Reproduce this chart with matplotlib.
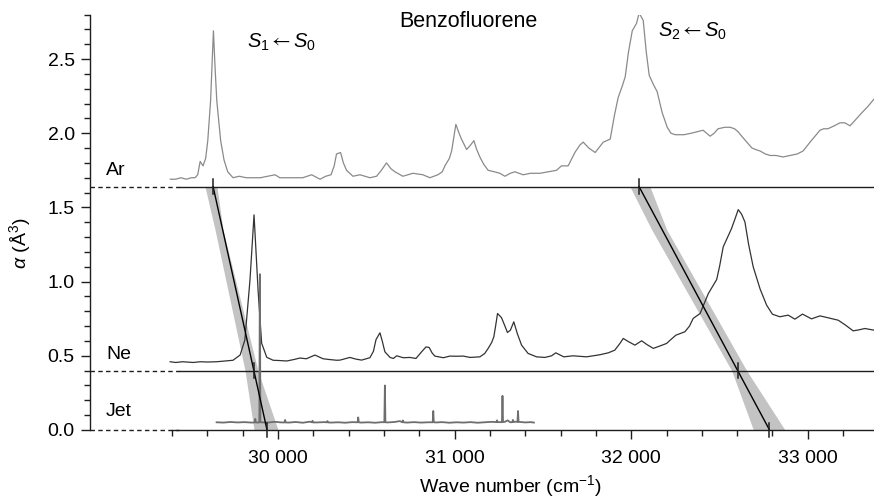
import numpy as np
import matplotlib
matplotlib.use('Agg')
import matplotlib.pyplot as plt
from matplotlib.ticker import MultipleLocator, FixedLocator, FixedFormatter

# Ar matrix spectrum (wave number, polarizability)
ar_x = [29390, 29420, 29450, 29480, 29510, 29530, 29545, 29559, 29575, 29590,
        29602, 29618, 29626, 29634, 29643, 29653, 29675, 29694, 29715, 29745,
        29780, 29820, 29859, 29900, 29940, 29983, 30010, 30060, 30100, 30140,
        30190, 30238, 30270, 30300, 30318, 30331, 30354, 30370, 30388, 30424,
        30464, 30520, 30558, 30585, 30614, 30640, 30662, 30707, 30764, 30820,
        30860, 30905, 30930, 30945, 30970, 30983, 31007, 31025, 31039, 31068,
        31090, 31109, 31125, 31143, 31165, 31190, 31225, 31256, 31285, 31315,
        31341, 31365, 31388, 31430, 31483, 31530, 31577, 31605, 31643, 31681,
        31709, 31728, 31760, 31796, 31842, 31881, 31905, 31926, 31950, 31966,
        31985, 32006, 32030, 32045, 32068, 32085, 32102, 32125, 32147, 32175,
        32204, 32225, 32249, 32300, 32340, 32373, 32407, 32447, 32470, 32492,
        32530, 32560, 32585, 32605, 32640, 32684, 32705, 32730, 32760, 32787,
        32820, 32860, 32900, 32940, 32973, 33020, 33069, 33090, 33114, 33150,
        33182, 33210, 33239, 33270, 33300, 33340, 33375]
ar_y = [1.69, 1.69, 1.70, 1.69, 1.70, 1.70, 1.72, 1.81, 1.78, 1.83,
        1.95, 2.22, 2.45, 2.69, 2.45, 2.22, 1.95, 1.82, 1.74, 1.70,
        1.71, 1.70, 1.70, 1.70, 1.71, 1.72, 1.70, 1.70, 1.70, 1.70,
        1.72, 1.69, 1.71, 1.72, 1.78, 1.86, 1.87, 1.80, 1.75, 1.71,
        1.72, 1.70, 1.71, 1.75, 1.80, 1.76, 1.74, 1.71, 1.73, 1.72,
        1.70, 1.72, 1.74, 1.78, 1.83, 1.88, 2.06, 2.00, 1.96, 1.89,
        1.92, 1.95, 1.89, 1.84, 1.79, 1.75, 1.74, 1.73, 1.71, 1.73,
        1.74, 1.73, 1.72, 1.73, 1.73, 1.74, 1.75, 1.78, 1.78, 1.87,
        1.92, 1.94, 1.90, 1.87, 1.94, 1.96, 2.12, 2.24, 2.32, 2.38,
        2.55, 2.69, 2.74, 2.81, 2.76, 2.55, 2.39, 2.33, 2.28, 2.14,
        2.04, 2.00, 1.99, 1.99, 2.00, 2.01, 2.02, 1.98, 2.00, 2.03,
        2.04, 2.04, 2.03, 2.01, 1.96, 1.90, 1.89, 1.88, 1.86, 1.85,
        1.85, 1.84, 1.85, 1.86, 1.88, 1.95, 2.02, 2.03, 2.03, 2.05,
        2.07, 2.07, 2.05, 2.09, 2.13, 2.18, 2.23]

# Ne matrix spectrum
ne_x = [29389, 29420, 29460, 29519, 29560, 29600, 29653, 29700, 29745, 29785,
        29812, 29841, 29864, 29887, 29907, 29936, 29972, 30010, 30049, 30090,
        30124, 30160, 30209, 30255, 30290, 30332, 30351, 30407, 30440, 30473,
        30520, 30540, 30555, 30577, 30590, 30605, 30634, 30653, 30672, 30709,
        30747, 30781, 30813, 30838, 30856, 30872, 30888, 30936, 30973, 31010,
        31049, 31087, 31143, 31170, 31190, 31210, 31222, 31232, 31243, 31265,
        31285, 31299, 31316, 31335, 31355, 31379, 31416, 31464, 31511, 31549,
        31573, 31618, 31671, 31747, 31822, 31870, 31907, 31936, 31955, 31985,
        32021, 32059, 32090, 32125, 32160, 32200, 32225, 32253, 32304, 32330,
        32351, 32390, 32437, 32484, 32500, 32521, 32568, 32590, 32606, 32625,
        32644, 32665, 32691, 32730, 32767, 32800, 32842, 32889, 32927, 32970,
        33021, 33069, 33116, 33172, 33210, 33257, 33290, 33323, 33374]
ne_y = [0.460, 0.455, 0.460, 0.455, 0.460, 0.458, 0.460, 0.465, 0.470, 0.505,
        0.606, 1.010, 1.450, 0.940, 0.585, 0.490, 0.470, 0.468, 0.465, 0.475,
        0.485, 0.480, 0.505, 0.480, 0.475, 0.470, 0.471, 0.489, 0.478, 0.471,
        0.487, 0.530, 0.610, 0.655, 0.600, 0.527, 0.489, 0.482, 0.500, 0.487,
        0.489, 0.482, 0.527, 0.560, 0.556, 0.520, 0.498, 0.487, 0.498, 0.497,
        0.498, 0.489, 0.493, 0.515, 0.550, 0.590, 0.628, 0.700, 0.785, 0.758,
        0.700, 0.657, 0.673, 0.729, 0.650, 0.572, 0.516, 0.493, 0.489, 0.500,
        0.520, 0.493, 0.500, 0.493, 0.507, 0.520, 0.538, 0.583, 0.617, 0.595,
        0.572, 0.601, 0.575, 0.550, 0.565, 0.583, 0.610, 0.639, 0.662, 0.700,
        0.752, 0.785, 0.920, 1.014, 1.100, 1.234, 1.357, 1.430, 1.485, 1.455,
        1.402, 1.250, 1.099, 0.950, 0.841, 0.780, 0.763, 0.774, 0.747, 0.781,
        0.749, 0.769, 0.756, 0.740, 0.710, 0.668, 0.675, 0.684, 0.673]

# gas-phase (jet) spectrum
jet_x = [29652, 29690, 29730, 29770, 29810, 29850, 29868, 29871, 29874, 29890,
         29894, 29897, 29900, 29940, 29980, 30020, 30037, 30040, 30043, 30060,
         30100, 30140, 30180, 30192, 30195, 30198, 30220, 30260, 30277, 30280,
         30283, 30300, 30340, 30380, 30420, 30451, 30454, 30457, 30470, 30510,
         30550, 30590, 30602, 30605, 30608, 30620, 30660, 30690, 30704, 30707,
         30710, 30730, 30770, 30810, 30850, 30876, 30879, 30882, 30895, 30930,
         30970, 31010, 31050, 31090, 31130, 31170, 31210, 31237, 31240, 31243,
         31255, 31268, 31271, 31274, 31285, 31300, 31315, 31327, 31330, 31333,
         31345, 31356, 31359, 31362, 31372, 31400, 31430, 31449]
jet_y = [0.052, 0.050, 0.054, 0.051, 0.053, 0.050, 0.051, 0.075, 0.051, 0.050,
         0.052, 1.050, 0.052, 0.050, 0.055, 0.051, 0.051, 0.068, 0.051, 0.050,
         0.054, 0.049, 0.056, 0.052, 0.062, 0.051, 0.051, 0.053, 0.052, 0.060,
         0.051, 0.050, 0.052, 0.049, 0.053, 0.052, 0.085, 0.052, 0.050, 0.052,
         0.049, 0.053, 0.052, 0.300, 0.052, 0.051, 0.054, 0.060, 0.052, 0.064,
         0.052, 0.050, 0.053, 0.050, 0.052, 0.052, 0.128, 0.052, 0.051, 0.053,
         0.049, 0.052, 0.050, 0.053, 0.049, 0.052, 0.055, 0.053, 0.065, 0.053,
         0.053, 0.053, 0.230, 0.054, 0.055, 0.065, 0.052, 0.053, 0.068, 0.054,
         0.056, 0.054, 0.128, 0.055, 0.054, 0.051, 0.053, 0.050]

# polarizability of each medium and where the transitions sit in it
media = ['Ar', 'Ne', 'Jet']
media_alpha = [1.64, 0.40, 0.0]
s1_pos = [29632, 29864, 29937]
s2_pos = [32044, 32605, 32782]

# uncertainty band of the extrapolation
band_alpha = [0.0, 0.40, 1.35, 1.64]
s1_band_lo = [29864, 29813, 29643, 29586]
s1_band_hi = [30000, 29886, 29688, 29654]
s2_band_lo = [32692, 32569, 32116, 31993]
s2_band_hi = [32871, 32654, 32201, 32106]

x_ticks = [30000, 31000, 32000, 33000]
x_tick_labels = ['30 000', '31 000', '32 000', '33 000']
y_ticks = [0.0, 0.5, 1.0, 1.5, 2.0, 2.5]

plt.rcParams['font.family'] = ['Liberation Sans', 'DejaVu Sans']
plt.rcParams['mathtext.fontset'] = 'custom'
plt.rcParams['mathtext.rm'] = 'Liberation Sans'
plt.rcParams['mathtext.it'] = 'Liberation Sans:italic'
plt.rcParams['mathtext.bf'] = 'Liberation Sans:bold'
plt.rcParams['mathtext.cal'] = 'STIXGeneral'  # thin arrow glyph

fig = plt.figure(figsize=(8.74, 4.99), dpi=100)
ax = fig.add_axes([0.10297, 0.13828, 0.89703, 0.83266])
x_lo, x_hi = 28935, 33375
ax.set_xlim(x_lo, x_hi)
ax.set_ylim(0, 2.8)

line_c = '#1e1e1e'

# bands and extrapolation lines
ax.fill_betweenx(band_alpha, s1_band_lo, s1_band_hi, color='#c3c3c3', lw=0, zorder=1)
ax.fill_betweenx(band_alpha, s2_band_lo, s2_band_hi, color='#c3c3c3', lw=0, zorder=1)
a_line = np.array([0.0, media_alpha[0]])
for pos in (s1_pos, s2_pos):
    coef = np.polyfit(media_alpha, pos, 1)
    ax.plot(np.polyval(coef, a_line), a_line, color='black', lw=1.0, zorder=3)
    for p, a in zip(pos, media_alpha):
        ax.plot([p, p], [a - 0.05, a + 0.05], color=line_c, lw=1.1,
                zorder=4, clip_on=False)

# medium baselines: dashed stub by the axis, solid after
for a in media_alpha:
    ax.plot([x_lo, 29440], [a, a], color=line_c, lw=1.0,
            ls=(0, (3.2, 2.4)), zorder=2, clip_on=False)
for a in media_alpha[:2]:
    ax.plot([29440, x_hi], [a, a], color=line_c, lw=1.0, zorder=2)

# spectra
ax.plot(ar_x, ar_y, color='#8a8a8a', lw=0.9, zorder=2)
ax.plot(ne_x, ne_y, color='#333333', lw=0.9, zorder=2)
ax.plot(jet_x, jet_y, color='#6e6e6e', lw=1.3, zorder=2)

# labels
label_y = [1.752, 0.512, 0.128]
for name, y in zip(media, label_y):
    ax.text(29026, y, name, fontsize=14, va='center', ha='left')
ax.text(31079, 2.75, 'Benzofluorene', fontsize=15.5, ha='center', va='center')
ax.text(29824, 2.614, r'$S_1\,\mathcal{←}\,S_0$', fontsize=14.5, ha='left', va='center')
ax.text(32152, 2.689, r'$S_2\,\mathcal{←}\,S_0$', fontsize=14.5, ha='left', va='center')

# axes
for s in ('top', 'right'):
    ax.spines[s].set_visible(False)
ax.spines['left'].set_bounds(0, 2.8)
ax.spines['bottom'].set_bounds(29400, x_hi)
for s in ('left', 'bottom'):
    ax.spines[s].set_linewidth(1.0)
    ax.spines[s].set_color(line_c)

ax.xaxis.set_major_locator(FixedLocator(x_ticks))
ax.xaxis.set_major_formatter(FixedFormatter(x_tick_labels))
ax.xaxis.set_minor_locator(FixedLocator(np.arange(29400, 33401, 200)))
ax.set_yticks(y_ticks)
ax.set_yticklabels(['%.1f' % v for v in y_ticks])
ax.yaxis.set_minor_locator(MultipleLocator(0.1))
ax.tick_params(which='major', direction='out', length=6.5, width=1.0,
               color=line_c, labelsize=14)
ax.tick_params(which='minor', direction='out', length=4, width=1.0, color=line_c)
ax.tick_params(axis='y', pad=4.5)
ax.tick_params(axis='x', pad=8)

ax.set_xlabel(r'Wave number (cm$^{-1}$)', fontsize=14)
ax.xaxis.set_label_coords(0.5357, -0.104)
ax.set_ylabel(r'$\alpha$ (Å$^3$)', fontsize=14)
ax.yaxis.set_label_coords(-0.0727, 0.45)

fig.savefig('out.png', dpi=100)
